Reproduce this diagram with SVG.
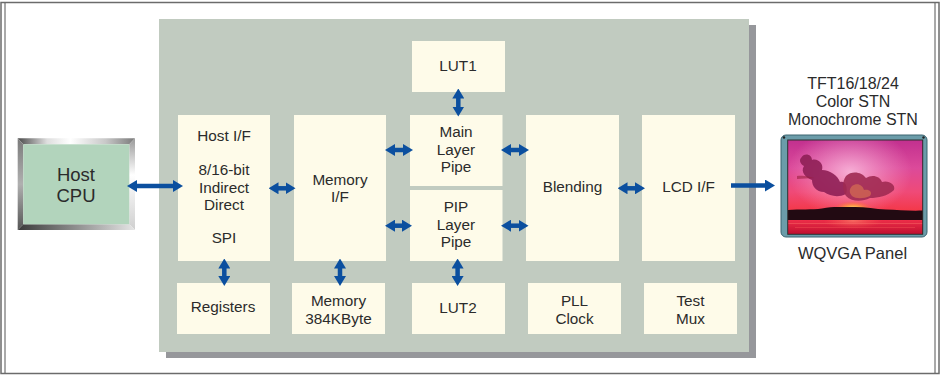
<svg xmlns="http://www.w3.org/2000/svg" width="941" height="376" viewBox="0 0 941 376">
<defs>
<style>
.box{fill:#fefbe9}
.t{font-family:"Liberation Sans",Arial,sans-serif;font-size:15.3px;fill:#2b2b2b;text-anchor:middle}
.tr{font-size:16px}
.cpu{font-size:18.5px}
.ar{stroke:#0b4f9f;stroke-width:4.5;fill:none}
.d{marker-start:url(#ah);marker-end:url(#ah)}
.s{marker-end:url(#ah)}
</style>
<marker id="ah" viewBox="0 0 10 12" markerWidth="10" markerHeight="12" refX="4" refY="6" markerUnits="userSpaceOnUse" orient="auto-start-reverse">
<path d="M0,0 L10,6 L0,12 z" fill="#0b4f9f"/>
</marker>
<linearGradient id="bvTop" x1="0" y1="0" x2="1" y2="0">
<stop offset="0" stop-color="#4a4a4a"/><stop offset="0.25" stop-color="#dedede"/><stop offset="0.45" stop-color="#ffffff"/><stop offset="0.75" stop-color="#c8c8c8"/><stop offset="1" stop-color="#7a7a7a"/>
</linearGradient>
<linearGradient id="bvRight" x1="0" y1="0" x2="0" y2="1">
<stop offset="0" stop-color="#9a9a9a"/><stop offset="0.4" stop-color="#ffffff"/><stop offset="1" stop-color="#cfcfcf"/>
</linearGradient>
<linearGradient id="bvBot" x1="0" y1="0" x2="1" y2="0">
<stop offset="0" stop-color="#3a3a3a"/><stop offset="0.5" stop-color="#8f8f8f"/><stop offset="1" stop-color="#e6e6e6"/>
</linearGradient>
<linearGradient id="bvLeft" x1="0" y1="0" x2="0" y2="1">
<stop offset="0" stop-color="#7a7a7a"/><stop offset="0.5" stop-color="#b0b0b0"/><stop offset="1" stop-color="#555555"/>
</linearGradient>
<linearGradient id="sky" x1="0" y1="0" x2="0" y2="1">
<stop offset="0" stop-color="#c2308f"/><stop offset="0.3" stop-color="#dc4a9a"/><stop offset="0.55" stop-color="#ef4a78"/><stop offset="0.8" stop-color="#f5343e"/><stop offset="1" stop-color="#ff5a26"/>
</linearGradient>
<linearGradient id="water" x1="0" y1="0" x2="0" y2="1">
<stop offset="0" stop-color="#f0304a"/><stop offset="1" stop-color="#c01030"/>
</linearGradient>
<radialGradient id="glow" cx="0.5" cy="0.5" r="0.5">
<stop offset="0" stop-color="#ffd0ea" stop-opacity="0.75"/><stop offset="1" stop-color="#ffb0d8" stop-opacity="0"/>
</radialGradient>
<radialGradient id="sun" cx="0.5" cy="0.5" r="0.5">
<stop offset="0" stop-color="#fff4a0"/><stop offset="0.4" stop-color="#ffb040" stop-opacity="0.85"/><stop offset="1" stop-color="#ff6030" stop-opacity="0"/>
</radialGradient>
<radialGradient id="refl" cx="0.5" cy="0.3" r="0.5">
<stop offset="0" stop-color="#ff9070" stop-opacity="0.6"/><stop offset="1" stop-color="#ff6050" stop-opacity="0"/>
</radialGradient>
<clipPath id="photoClip"><rect x="788" y="140" width="135" height="94"/></clipPath>
</defs>

<rect width="941" height="376" fill="#ffffff"/>
<g id="frame" fill="none">
<rect x="1" y="2.5" width="938" height="371" stroke="#6b6b6b" stroke-width="1.5"/>
<line x1="5" y1="3" x2="5" y2="373" stroke="#555" stroke-width="1"/>
<line x1="935" y1="3" x2="935" y2="373" stroke="#555" stroke-width="1"/>
</g>

<g id="chip">
<rect x="166" y="25" width="590" height="333" fill="#96979b"/>
<rect x="159" y="19" width="590" height="333" fill="#c1cbc0"/>
</g>

<g id="host-cpu">
<polygon points="17.7,138.3 135,138.3 129.3,144.3 23.3,144.3" fill="url(#bvTop)"/>
<polygon points="135,138.3 135,230 129.3,224.3 129.3,144.3" fill="url(#bvRight)"/>
<polygon points="17.7,230 135,230 129.3,224.3 23.3,224.3" fill="url(#bvBot)"/>
<polygon points="17.7,138.3 23.3,144.3 23.3,224.3 17.7,230" fill="url(#bvLeft)"/>
<rect x="23.3" y="144.3" width="106" height="80" fill="#b2d4bc"/>
<text class="t cpu" x="76" y="181">Host</text>
<text class="t cpu" x="76" y="201.7">CPU</text>
</g>

<g id="host-if">
<rect class="box" x="178" y="115" width="92" height="146"/>
<text class="t" x="224" y="140.7">Host I/F</text>
<text class="t" x="224" y="175.3">8/16-bit</text>
<text class="t" x="224" y="192.7">Indirect</text>
<text class="t" x="224" y="210">Direct</text>
<text class="t" x="224" y="243.3">SPI</text>
</g>
<g id="memory-if">
<rect class="box" x="294" y="115" width="92" height="146"/>
<text class="t" x="340" y="185">Memory</text>
<text class="t" x="340" y="202.3">I/F</text>
</g>
<g id="lut1">
<rect class="box" x="412" y="41" width="93" height="51"/>
<text class="t" x="458" y="70.5">LUT1</text>
</g>
<g id="main-layer-pipe">
<rect class="box" x="410" y="115" width="92.5" height="71"/>
<text class="t" x="456" y="137">Main</text>
<text class="t" x="456" y="154.5">Layer</text>
<text class="t" x="456" y="172">Pipe</text>
</g>
<g id="pip-layer-pipe">
<rect class="box" x="410" y="190" width="92.5" height="71"/>
<text class="t" x="456" y="212">PIP</text>
<text class="t" x="456" y="229.5">Layer</text>
<text class="t" x="456" y="247">Pipe</text>
</g>
<g id="blending">
<rect class="box" x="526" y="115" width="93" height="146"/>
<text class="t" x="572.5" y="191.7">Blending</text>
</g>
<g id="lcd-if">
<rect class="box" x="642" y="115" width="93" height="146"/>
<text class="t" x="688.5" y="191.7">LCD I/F</text>
</g>
<g id="registers">
<rect class="box" x="177" y="283" width="93" height="51"/>
<text class="t" x="223" y="312">Registers</text>
</g>
<g id="memory">
<rect class="box" x="292" y="283" width="93" height="51"/>
<text class="t" x="338.5" y="306.3">Memory</text>
<text class="t" x="338.5" y="323.5">384KByte</text>
</g>
<g id="lut2">
<rect class="box" x="412" y="283" width="93" height="51"/>
<text class="t" x="458" y="312.5">LUT2</text>
</g>
<g id="pll-clock">
<rect class="box" x="528" y="283" width="93" height="51"/>
<text class="t" x="574.5" y="306.3">PLL</text>
<text class="t" x="574.5" y="323.5">Clock</text>
</g>
<g id="test-mux">
<rect class="box" x="644" y="283" width="93" height="51"/>
<text class="t" x="690.5" y="306.3">Test</text>
<text class="t" x="690.5" y="323.5">Mux</text>
</g>

<g id="panel">
<text class="t tr" x="853" y="89">TFT16/18/24</text>
<text class="t tr" x="853" y="107">Color STN</text>
<text class="t tr" x="853" y="125">Monochrome STN</text>
<rect x="781" y="135" width="146" height="102" rx="5" fill="#6b9ca9" stroke="#3d6470" stroke-width="1"/>
<circle cx="784" cy="137.5" r="1.2" fill="#222"/>
<circle cx="923.5" cy="137.5" r="1.2" fill="#222"/>
<g clip-path="url(#photoClip)">
<rect x="788" y="140" width="135" height="94" fill="url(#sky)"/>
<ellipse cx="850" cy="172" rx="62" ry="45" fill="url(#glow)"/>
<path d="M801,158 C804,152 812,154 812,160 C818,158 824,164 822,170 C830,170 838,176 840,182 C846,180 848,188 846,194 C838,198 830,196 824,192 C816,192 812,186 812,180 C806,178 800,172 804,166 C800,164 799,160 801,158 Z" fill="#8e1f55" opacity="0.9"/>
<path d="M846,176 C852,170 862,172 866,178 C872,174 880,176 882,182 C888,180 896,184 894,190 C888,196 878,198 870,198 C862,202 852,202 846,196 C842,190 842,182 846,176 Z" fill="#a02a52" opacity="0.9"/>
<path d="M852,186 C857,182 863,185 864,190 C869,189 873,192 870,196 C863,199 856,199 852,196 C849,193 849,189 852,186 Z" fill="#f0904e" opacity="0.45"/>
<path d="M797,176 C803,175 811,177 814,178 L797,179 Z" fill="#9a2040" opacity="0.6"/>
<ellipse cx="853" cy="209" rx="20" ry="8" fill="url(#sun)"/>
<rect x="788" y="219" width="135" height="15" fill="url(#water)"/>
<ellipse cx="853" cy="224" rx="30" ry="8" fill="url(#refl)"/>
<path d="M788,210 C800,209 812,210 822,208.5 C834,206 842,207.5 852,207 C864,206.5 874,209 886,209.5 C898,210 910,211 923,210.5 L923,220 L788,220 Z" fill="#220a12"/>
<rect x="788" y="223" width="135" height="0.8" fill="#ff7a70" opacity="0.5"/>
<rect x="795" y="227" width="120" height="0.8" fill="#ff6a60" opacity="0.4"/>
</g>
<rect x="787.7" y="140" width="135" height="94.3" fill="none" stroke="#2e2e2e" stroke-width="1"/>
<text class="t" style="font-size:16.5px" x="852.5" y="259.3">WQVGA Panel</text>
</g>

<g id="connectors" class="ar">
<line class="d" x1="133" y1="186" x2="177" y2="186"/>
<line class="d" x1="274.5" y1="188.3" x2="289.5" y2="188.3"/>
<line class="d" x1="391" y1="150" x2="407" y2="150"/>
<line class="d" x1="507" y1="150" x2="523" y2="150"/>
<line class="d" x1="391" y1="225.7" x2="406" y2="225.7"/>
<line class="d" x1="507" y1="225.7" x2="522.5" y2="225.7"/>
<line class="d" x1="623.5" y1="188.3" x2="639" y2="188.3"/>
<line class="s" x1="731" y1="185.5" x2="769" y2="185.5"/>
<line class="d" x1="458.3" y1="94.5" x2="458.3" y2="110.5"/>
<line class="d" x1="224.3" y1="264.5" x2="224.3" y2="280"/>
<line class="d" x1="340" y1="264.5" x2="340" y2="280"/>
<line class="d" x1="457.6" y1="264.5" x2="457.6" y2="280"/>
</g>
</svg>
